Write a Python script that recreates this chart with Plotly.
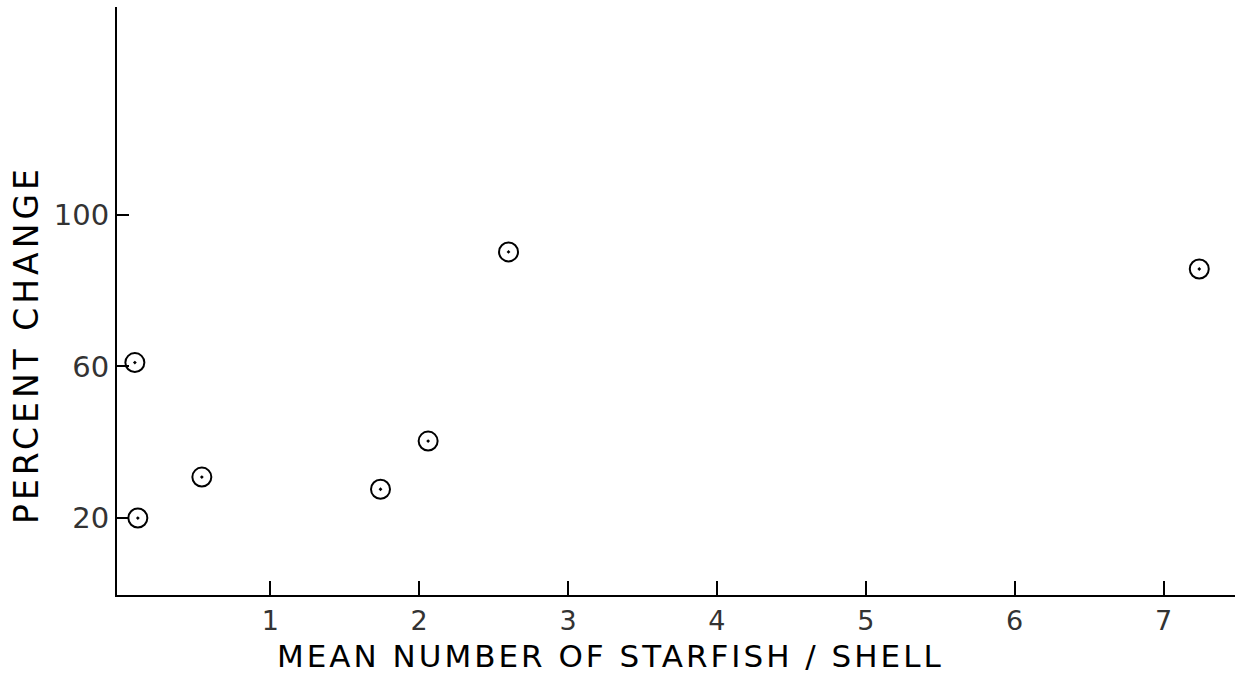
import plotly.graph_objects as go

# Mean number of starfish per shell vs. percent change
starfish_per_shell = [0.09, 0.11, 0.54, 1.74, 2.06, 2.60, 7.24]
percent_change = [61.0, 20.0, 30.8, 27.6, 40.3, 90.2, 85.7]

x_ticks = [1, 2, 3, 4, 5, 6, 7]
y_ticks = [20, 60, 100]

x_title = "MEAN NUMBER OF STARFISH / SHELL"
y_title = "PERCENT CHANGE"

FONT = "DejaVu Sans"

# plot-area pixel bounds used to place the lettered titles
L, R, T, B = 117, 1235, 7, 595


def spaced(text, px):
    return f'<span style="letter-spacing:{px}px">{text}</span>'


fig = go.Figure()
fig.add_trace(go.Scatter(
    x=starfish_per_shell,
    y=percent_change,
    mode="markers",
    marker=dict(symbol="circle-open-dot", size=19, color="black",
                line=dict(width=2, color="black")),
    showlegend=False,
    hoverinfo="x+y",
))

fig.update_layout(
    width=1251, height=678,
    margin=dict(l=L, r=1251 - R, t=T, b=678 - B),
    paper_bgcolor="white", plot_bgcolor="white",
    font=dict(family=FONT, color="black"),
    xaxis=dict(
        range=[-0.03, 7.48], showgrid=False, zeroline=False,
        showline=True, linecolor="black", linewidth=2,
        tickvals=x_ticks, ticktext=[str(v) for v in x_ticks],
        ticks="inside", ticklen=14, tickwidth=2, tickcolor="black",
        tickfont=dict(size=27, family=FONT, color="#333"),
        ticklabelstandoff=1,
    ),
    yaxis=dict(
        range=[-0.3, 154.8], showgrid=False, zeroline=False,
        showline=True, linecolor="black", linewidth=2,
        tickvals=y_ticks, ticktext=[str(v) for v in y_ticks],
        ticks="inside", ticklen=12, tickwidth=2, tickcolor="black",
        tickfont=dict(size=29, family=FONT, color="#333"),
        ticklabelstandoff=0,
    ),
    annotations=[
        dict(text=spaced(x_title, 3), xref="paper", yref="paper",
             x=(610 - L) / (R - L), y=-(656 - B) / (B - T),
             xanchor="center", yanchor="middle", showarrow=False,
             font=dict(size=31, family=FONT, color="black")),
        dict(text=spaced(y_title, 4), xref="paper", yref="paper",
             x=-(L - 26) / (R - L), y=(B - 345) / (B - T),
             xanchor="center", yanchor="middle", showarrow=False, textangle=-90,
             font=dict(size=33, family=FONT, color="black")),
    ],
)

fig.write_html("out.html")
